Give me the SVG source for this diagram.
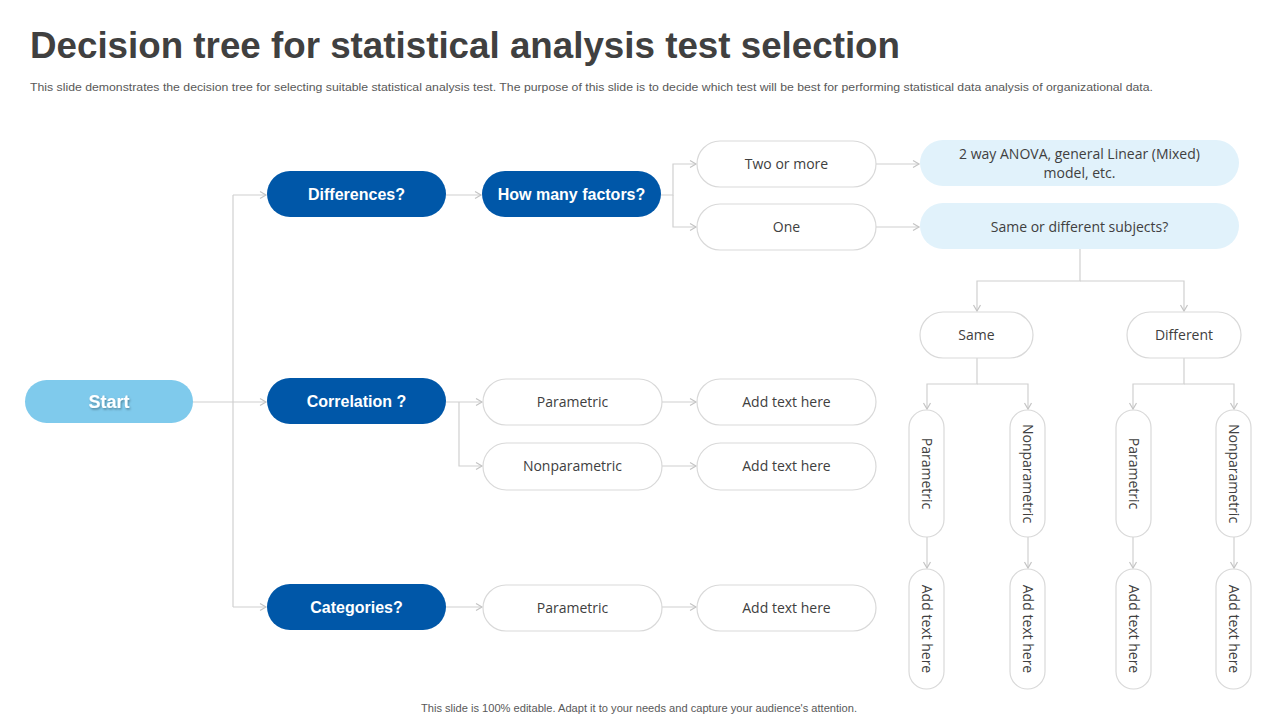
<svg xmlns="http://www.w3.org/2000/svg" width="1280" height="720" viewBox="0 0 1280 720">
<defs>
<marker id="arr" markerWidth="10" markerHeight="10" refX="8" refY="5" orient="auto" markerUnits="userSpaceOnUse">
<path d="M2,1.5 L8,5 L2,8.5" fill="none" stroke="#c4c4c4" stroke-width="1.2"/>
</marker>
<filter id="sh" x="-10%" y="-30%" width="120%" height="160%">
<feDropShadow dx="1" dy="1.5" stdDeviation="0.8" flood-color="#000" flood-opacity="0.35"/>
</filter>
<style>
.dark{fill:#0057a8}
.light{fill:#e1f2fb}
.white{fill:#ffffff;stroke:#d9d9d9;stroke-width:1.2}
.tw{font-family:"Liberation Sans",Arial,sans-serif;font-weight:bold;font-size:16px;fill:#ffffff;text-anchor:middle}
.tg{font-family:"Open Sans","Noto Sans",sans-serif;font-size:14px;fill:#404040;text-anchor:middle}
.ln{fill:none;stroke:#d0d0d0;stroke-width:1.2}
</style>
</defs>
<rect width="1280" height="720" fill="#ffffff"/>
<text x="30" y="58" font-family="Liberation Sans,Arial,sans-serif" font-weight="bold" font-size="36" fill="#404040" textLength="870" lengthAdjust="spacingAndGlyphs">Decision tree for statistical analysis test selection</text>
<text x="30" y="91" font-family="Liberation Sans,Arial,sans-serif" font-size="11" fill="#595959" textLength="1123" lengthAdjust="spacingAndGlyphs">This slide demonstrates the decision tree for selecting suitable statistical analysis test. The purpose of this slide is to decide which test will be best for performing statistical data analysis of organizational data.</text>
<text x="639" y="712" font-family="Liberation Sans,Arial,sans-serif" font-size="11" fill="#595959" text-anchor="middle" textLength="436" lengthAdjust="spacingAndGlyphs">This slide is 100% editable. Adapt it to your needs and capture your audience's attention.</text>

<g id="connectors">
<path class="ln" d="M193,402 H266" marker-end="url(#arr)"/>
<path class="ln" d="M233,195 V607"/>
<path class="ln" d="M233,195 H266" marker-end="url(#arr)"/>
<path class="ln" d="M233,607 H266" marker-end="url(#arr)"/>
<path class="ln" d="M446,195 H481" marker-end="url(#arr)"/>
<path class="ln" d="M661,195 H673 V164 H696" marker-end="url(#arr)"/>
<path class="ln" d="M673,195 V227 H696" marker-end="url(#arr)"/>
<path class="ln" d="M876,164 H919" marker-end="url(#arr)"/>
<path class="ln" d="M876,227 H919" marker-end="url(#arr)"/>
<path class="ln" d="M1080,249 V281 H977 V311" marker-end="url(#arr)"/>
<path class="ln" d="M1080,281 H1184 V311" marker-end="url(#arr)"/>
<path class="ln" d="M977,358 V384 H927 V409" marker-end="url(#arr)"/>
<path class="ln" d="M977,384 H1028 V409" marker-end="url(#arr)"/>
<path class="ln" d="M1184,358 V384 H1133 V409" marker-end="url(#arr)"/>
<path class="ln" d="M1184,384 H1234 V409" marker-end="url(#arr)"/>
<path class="ln" d="M927,537 V568" marker-end="url(#arr)"/>
<path class="ln" d="M1028,537 V568" marker-end="url(#arr)"/>
<path class="ln" d="M1133,537 V568" marker-end="url(#arr)"/>
<path class="ln" d="M1234,537 V568" marker-end="url(#arr)"/>
<path class="ln" d="M446,402 H482" marker-end="url(#arr)"/>
<path class="ln" d="M459,402 V466 H482" marker-end="url(#arr)"/>
<path class="ln" d="M662,402 H696" marker-end="url(#arr)"/>
<path class="ln" d="M662,466 H696" marker-end="url(#arr)"/>
<path class="ln" d="M446,607 H482" marker-end="url(#arr)"/>
<path class="ln" d="M662,607 H696" marker-end="url(#arr)"/>
</g>

<g id="start"><rect x="25" y="380" width="168" height="43" rx="21.5" fill="#7fcaec"/><text x="109" y="408" font-family="Liberation Sans,Arial,sans-serif" font-weight="bold" font-size="18" fill="#ffffff" text-anchor="middle" filter="url(#sh)">Start</text></g>
<g id="differences"><rect class="dark" x="267" y="171" width="179" height="46" rx="23"/><text class="tw" x="356.5" y="200">Differences?</text></g>
<g id="howmany"><rect class="dark" x="482" y="171" width="179" height="46" rx="23"/><text class="tw" x="571.5" y="200">How many factors?</text></g>
<g id="correlation"><rect class="dark" x="267" y="378" width="179" height="46" rx="23"/><text class="tw" x="356.5" y="407">Correlation ?</text></g>
<g id="categories"><rect class="dark" x="267" y="584" width="179" height="46" rx="23"/><text class="tw" x="356.5" y="613">Categories?</text></g>

<g id="twoormore"><rect class="white" x="697" y="141" width="179" height="46" rx="23"/><text class="tg" x="786.5" y="169">Two or more</text></g>
<g id="one"><rect class="white" x="697" y="204" width="179" height="46" rx="23"/><text class="tg" x="786.5" y="232">One</text></g>
<g id="anova"><rect class="light" x="920" y="140" width="319" height="46" rx="23"/><text class="tg" x="1079.5" y="159">2 way ANOVA, general Linear (Mixed)</text><text class="tg" x="1079.5" y="178">model, etc.</text></g>
<g id="samediff"><rect class="light" x="920" y="203" width="319" height="46" rx="23"/><text class="tg" x="1079.5" y="232">Same or different subjects?</text></g>
<g id="same"><rect class="white" x="920" y="312" width="113" height="46" rx="23"/><text class="tg" x="976.5" y="340">Same</text></g>
<g id="different"><rect class="white" x="1127" y="312" width="114" height="46" rx="23"/><text class="tg" x="1184" y="340">Different</text></g>

<g id="corr-param"><rect class="white" x="483" y="379" width="179" height="46" rx="23"/><text class="tg" x="572.5" y="407">Parametric</text></g>
<g id="corr-add1"><rect class="white" x="697" y="379" width="179" height="46" rx="23"/><text class="tg" x="786.5" y="407">Add text here</text></g>
<g id="corr-nonparam"><rect class="white" x="483" y="443" width="179" height="47" rx="23.5"/><text class="tg" x="572.5" y="471">Nonparametric</text></g>
<g id="corr-add2"><rect class="white" x="697" y="443" width="179" height="47" rx="23.5"/><text class="tg" x="786.5" y="471">Add text here</text></g>
<g id="cat-param"><rect class="white" x="483" y="585" width="179" height="46" rx="23"/><text class="tg" x="572.5" y="613">Parametric</text></g>
<g id="cat-add"><rect class="white" x="697" y="585" width="179" height="46" rx="23"/><text class="tg" x="786.5" y="613">Add text here</text></g>

<g id="v-param1"><rect class="white" x="909" y="410" width="35" height="127" rx="17.5"/><text class="tg" transform="translate(926.5,473.5) rotate(90)" y="5">Parametric</text></g>
<g id="v-nonparam1"><rect class="white" x="1010" y="410" width="35" height="127" rx="17.5"/><text class="tg" transform="translate(1027.5,473.5) rotate(90)" y="5">Nonparametric</text></g>
<g id="v-param2"><rect class="white" x="1116" y="410" width="35" height="127" rx="17.5"/><text class="tg" transform="translate(1133.5,473.5) rotate(90)" y="5">Parametric</text></g>
<g id="v-nonparam2"><rect class="white" x="1216" y="410" width="35" height="127" rx="17.5"/><text class="tg" transform="translate(1233.5,473.5) rotate(90)" y="5">Nonparametric</text></g>
<g id="v-add1"><rect class="white" x="909" y="569" width="35" height="120" rx="17.5"/><text class="tg" transform="translate(926.5,629) rotate(90)" y="5">Add text here</text></g>
<g id="v-add2"><rect class="white" x="1010" y="569" width="35" height="120" rx="17.5"/><text class="tg" transform="translate(1027.5,629) rotate(90)" y="5">Add text here</text></g>
<g id="v-add3"><rect class="white" x="1116" y="569" width="35" height="120" rx="17.5"/><text class="tg" transform="translate(1133.5,629) rotate(90)" y="5">Add text here</text></g>
<g id="v-add4"><rect class="white" x="1216" y="569" width="35" height="120" rx="17.5"/><text class="tg" transform="translate(1233.5,629) rotate(90)" y="5">Add text here</text></g>
</svg>
